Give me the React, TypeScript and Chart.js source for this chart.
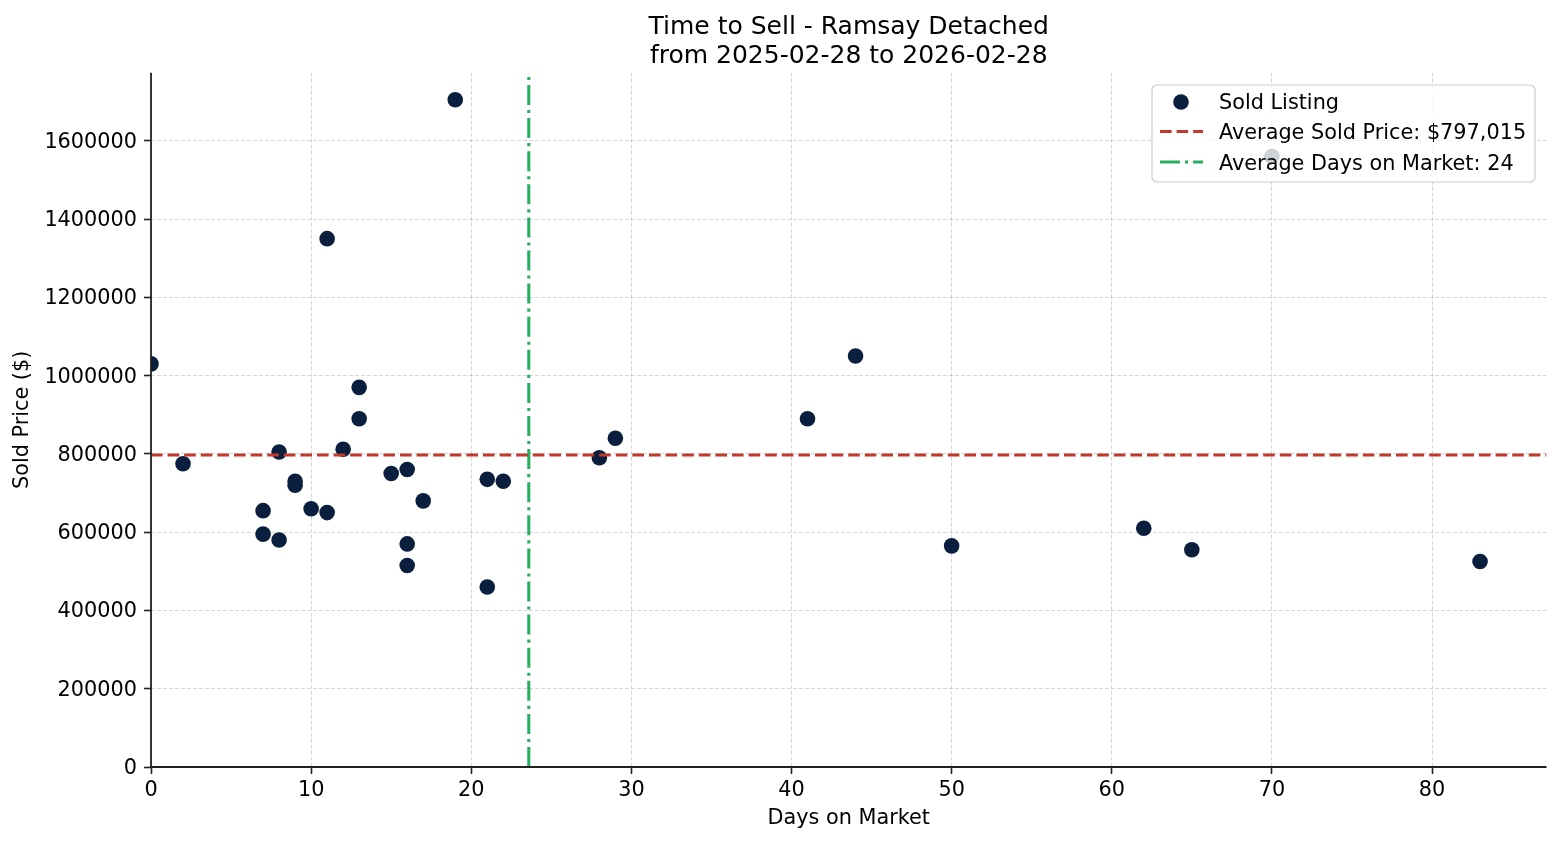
import { useEffect, useRef } from 'react'
import { Chart, registerables } from 'chart.js'

Chart.register(...registerables)

// sold listings: days on market vs sold price
const days = [0, 2, 7, 7, 8, 8, 9, 9, 10, 11, 11, 12, 13, 13, 15, 16, 16, 16, 17, 19, 21, 21, 22, 28, 29, 41, 44, 50, 62, 65, 70, 83]
const prices = [
  1030000, 775000, 655000, 595000, 805000, 580000, 730000, 720000, 660000, 1350000, 650000,
  812000, 970000, 890000, 750000, 760000, 570000, 515000, 680000, 1705000, 735000, 460000,
  730000, 790000, 840000, 890000, 1050000, 565000, 610000, 555000, 1560000, 525000,
]
const xTicks = [0, 10, 20, 30, 40, 50, 60, 70, 80]
const yTicks = [0, 200000, 400000, 600000, 800000, 1000000, 1200000, 1400000, 1600000]

const AVG_PRICE = 797015
const AVG_DAYS = days.reduce((s, d) => s + d, 0) / days.length
const X_MAX = 87.15
const Y_MAX = 1774000

const TITLE = ['Time to Sell - Ramsay Detached', 'from 2025-02-28 to 2026-02-28']
const LEGEND = ['Sold Listing', 'Average Sold Price: $797,015', `Average Days on Market: ${Math.round(AVG_DAYS)}`]

const NAVY = '#0a1f3d'
const RED = '#c0392b'
const GREEN = '#27ae60'
const FONT = '"DejaVu Sans", sans-serif'
const RED_DASH = [11.6, 5]
const GREEN_DASH = [20, 5, 3.1, 5]

const decorations = {
  id: 'decorations',
  afterDraw(chart: Chart) {
    const { ctx, chartArea } = chart
    const cx = (chartArea.left + chartArea.right) / 2
    ctx.save()
    ctx.fillStyle = '#000'
    ctx.textAlign = 'center'
    ctx.textBaseline = 'alphabetic'
    ctx.font = `25px ${FONT}`
    ctx.fillText(TITLE[0], cx, 33.5)
    ctx.fillText(TITLE[1], cx, 62.5)

    // axis titles
    ctx.font = `20.8px ${FONT}`
    ctx.textBaseline = 'middle'
    ctx.fillText('Days on Market', cx, 819)
    ctx.save()
    ctx.translate(23, (chartArea.top + chartArea.bottom) / 2)
    ctx.rotate(-Math.PI / 2)
    ctx.fillText('Sold Price ($)', 0, 0)
    ctx.restore()

    // spines
    ctx.strokeStyle = '#222222'
    ctx.lineWidth = 1.8
    ctx.setLineDash([])
    ctx.beginPath()
    ctx.moveTo(chartArea.left, chartArea.top)
    ctx.lineTo(chartArea.left, chartArea.bottom)
    ctx.lineTo(chartArea.right, chartArea.bottom)
    ctx.stroke()

    // legend
    const bx = 1152, by = 85, bw = 383, bh = 97, r = 5
    ctx.beginPath()
    ctx.roundRect(bx, by, bw, bh, r)
    ctx.fillStyle = 'rgba(255,255,255,0.8)'
    ctx.fill()
    ctx.strokeStyle = '#cccccc'
    ctx.lineWidth = 1.2
    ctx.stroke()

    ctx.fillStyle = NAVY
    ctx.beginPath()
    ctx.arc(1181, 102, 7.8, 0, Math.PI * 2)
    ctx.fill()

    ctx.lineWidth = 3.1
    ctx.strokeStyle = RED
    ctx.setLineDash(RED_DASH)
    ctx.beginPath()
    ctx.moveTo(1160, 131.5)
    ctx.lineTo(1203, 131.5)
    ctx.stroke()
    ctx.strokeStyle = GREEN
    ctx.setLineDash(GREEN_DASH)
    ctx.beginPath()
    ctx.moveTo(1160, 162)
    ctx.lineTo(1203, 162)
    ctx.stroke()
    ctx.setLineDash([])

    ctx.fillStyle = '#000'
    ctx.textAlign = 'left'
    ctx.textBaseline = 'alphabetic'
    ctx.font = `20.8px ${FONT}`
    ctx.fillText(LEGEND[0], 1219, 109.3)
    ctx.fillText(LEGEND[1], 1219, 139.3)
    ctx.fillText(LEGEND[2], 1219, 170)
    ctx.restore()
  },
}

export default function App() {
  const canvasRef = useRef<HTMLCanvasElement>(null)
  const chartRef = useRef<Chart | null>(null)

  useEffect(() => {
    if (!canvasRef.current) return
    if (chartRef.current) chartRef.current.destroy()

    const tickFont = { family: FONT, size: 20.8 }

    chartRef.current = new Chart(canvasRef.current, {
      type: 'scatter',
      data: {
        datasets: [
          {
            label: LEGEND[0],
            data: days.map((d, i) => ({ x: d, y: prices[i] })),
            backgroundColor: NAVY,
            borderColor: NAVY,
            borderWidth: 0,
            pointRadius: 7.8,
            order: 2,
          },
          {
            type: 'line',
            label: LEGEND[1],
            data: [{ x: 0, y: AVG_PRICE }, { x: X_MAX, y: AVG_PRICE }],
            borderColor: RED,
            borderWidth: 3.1,
            borderDash: RED_DASH,
            pointRadius: 0,
            showLine: true,
            order: 1,
          },
          {
            type: 'line',
            label: LEGEND[2],
            data: [{ x: AVG_DAYS, y: 0 }, { x: AVG_DAYS, y: Y_MAX }],
            borderColor: GREEN,
            borderWidth: 3.1,
            borderDash: GREEN_DASH,
            pointRadius: 0,
            showLine: true,
            order: 1,
          },
        ],
      },
      options: {
        responsive: true,
        maintainAspectRatio: false,
        animation: false,
        devicePixelRatio: 1,
        layout: { padding: { left: 0, top: 72.7, right: 13.5, bottom: 0 } },
        plugins: {
          legend: { display: false },
          title: { display: false },
          tooltip: { enabled: false },
        },
        scales: {
          x: {
            type: 'linear',
            min: 0,
            max: X_MAX,
            afterBuildTicks: (scale: any) => { scale.ticks = xTicks.map(v => ({ value: v })) },
            afterFit: (scale: any) => { scale.height = 845 - 767 },
            grid: { color: 'rgba(0,0,0,0.16)', lineWidth: 1, tickColor: '#222222', tickLength: 7, tickWidth: 1.6 },
            border: { display: false, dash: [4, 2] },
            ticks: { color: '#000', font: tickFont, padding: 4, maxRotation: 0, autoSkip: false },
          },
          y: {
            type: 'linear',
            min: 0,
            max: Y_MAX,
            afterBuildTicks: (scale: any) => { scale.ticks = yTicks.map(v => ({ value: v })) },
            afterFit: (scale: any) => { scale.width = 151 },
            grid: { color: 'rgba(0,0,0,0.16)', lineWidth: 1, tickColor: '#222222', tickLength: 7, tickWidth: 1.6 },
            border: { display: false, dash: [4, 2] },
            ticks: { color: '#000', font: tickFont, padding: 7, labelOffset: 1.5, autoSkip: false, callback: v => String(v) },
          },
        },
      },
      plugins: [decorations],
    })

    return () => { chartRef.current?.destroy() }
  }, [])

  return (
    <div style={{ position: 'absolute', left: 0, top: 0, width: 1560, height: 845, background: '#fff' }}>
      <canvas ref={canvasRef} />
    </div>
  )
}
